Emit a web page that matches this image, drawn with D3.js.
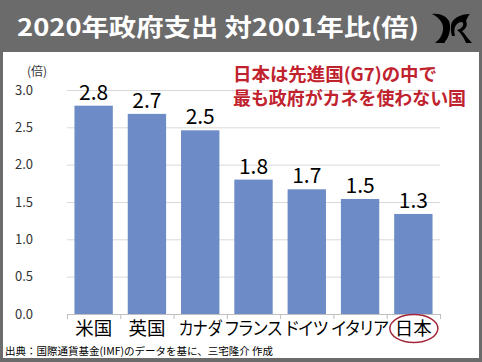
<!DOCTYPE html>
<html>
<head>
<meta charset="utf-8">
<script src="https://cdn.jsdelivr.net/npm/d3@7"></script>
<style>
  body { margin: 0; background: #fff; }
  svg { display: block; }
  .palt { font-feature-settings: "palt" 1; }
</style>
</head>
<body>
<script>
let countries = ["米国", "英国", "カナダ", "フランス", "ドイツ", "イタリア", "日本"];
let ratios = [2.79, 2.68, 2.46, 1.80, 1.67, 1.54, 1.34];
let yTicks = [0, 0.5, 1.0, 1.5, 2.0, 2.5, 3.0];
let title = "2020年政府支出 対2001年比(倍)";
let note = ["日本は先進国(G7)の中で", "最も政府がカネを使わない国"];
let source = "出典：国際通貨基金(IMF)のデータを基に、三宅隆介 作成";

let w = 482;
let h = 362;
let jp = "'Noto Sans CJK JP', 'Noto Sans', sans-serif";

// kana glyphs in the original are narrower than kanji
let labelWidth = s => Array.from(s).reduce((a, c) => a + (/[\u30A0-\u30FF]/.test(c) ? 14.3 : 18.5), 0);

const svg = d3.select("body")
    .append("svg")
    .attr("width", w)
    .attr("height", h);

// frame + title bar
svg.append("rect")
    .attr("x", 0).attr("y", 0)
    .attr("width", w).attr("height", h)
    .attr("fill", "#6b6b6b");
svg.append("rect")
    .attr("x", 3).attr("y", 52)
    .attr("width", w - 6).attr("height", h - 52 - 4)
    .attr("fill", "#fff");

svg.append("text")
    .attr("class", "palt")
    .attr("x", 17)
    .attr("y", 36)
    .attr("fill", "#fff")
    .style("font-family", jp)
    .style("font-weight", "bold")
    .style("font-size", "24px")
    .attr("textLength", 402)
    .attr("lengthAdjust", "spacingAndGlyphs")
    .text(title);

// logo (rough brush shapes)
let logo = svg.append("g").attr("transform", "translate(432,12)");
logo.append("path")
    .attr("d", "M0,2 C8,1 14,4 17,9 C19,14 18,22 15,27 C13,29 12,31 13,31 L3,31 C7,28 10,24 11,18 C12,12 8,6 0,2 Z")
    .attr("fill", "#000");
logo.append("path")
    .attr("d", "M38,2 C30,2 23,5 20,10 C18,15 19,20 20,24 L23,24 C22,19 22,15 25,12 C27,10 30,9 31,11 C32,14 29,17 25,18 C29,21 32,26 34,31 L40,31 C36,27 33,22 30,19 C34,17 36,13 34,9 C35,6 36,4 38,2 Z")
    .attr("fill", "#000");

const xScale = d3.scaleBand()
    .domain(countries)
    .range([67, 440])
    .paddingInner(0.28)
    .paddingOuter(0.14);

const yScale = d3.scaleLinear()
    .domain([0, 3])
    .range([314, 90]);

// gridlines
svg.append("g")
    .selectAll("line")
    .data(yTicks.filter(d => d > 0))
    .enter()
    .append("line")
    .attr("x1", 67).attr("x2", 440)
    .attr("y1", d => yScale(d) + 0.5).attr("y2", d => yScale(d) + 0.5)
    .attr("stroke", "#d9d9d9")
    .attr("stroke-width", 1);

// y axis labels
const yAxis = d3.axisLeft(yScale).tickValues(yTicks).tickFormat(d3.format(".1f")).tickSize(0).tickPadding(0);
svg.append("g")
    .attr("transform", "translate(33,0)")
    .call(yAxis)
    .call(g => g.select(".domain").remove())
    .selectAll("text")
    .attr("fill", "#333")
    .style("font-family", jp)
    .style("font-size", "13px");

svg.append("text")
    .attr("class", "palt")
    .attr("x", 37).attr("y", 76)
    .attr("text-anchor", "middle")
    .attr("fill", "#333")
    .style("font-family", jp)
    .style("font-size", "12px")
    .text("(倍)");

// bars
svg.append("g")
    .selectAll("rect")
    .data(countries)
    .enter()
    .append("rect")
    .attr("x", d => xScale(d))
    .attr("y", (d, i) => yScale(ratios[i]))
    .attr("width", xScale.bandwidth())
    .attr("height", (d, i) => yScale(0) - yScale(ratios[i]))
    .attr("fill", "#6d8bc6");

// value labels
svg.append("g")
    .selectAll("text")
    .data(countries)
    .enter()
    .append("text")
    .attr("x", d => xScale(d) + xScale.bandwidth() / 2)
    .attr("y", (d, i) => yScale(ratios[i]) - 6)
    .attr("text-anchor", "middle")
    .attr("fill", "#000")
    .style("font-family", jp)
    .style("font-size", "21px")
    .text((d, i) => ratios[i].toFixed(1));

// x axis line + ticks between categories
let step = xScale.step();
const xAxisG = svg.append("g");
xAxisG.append("line")
    .attr("x1", 67).attr("x2", 440)
    .attr("y1", 314.5).attr("y2", 314.5)
    .attr("stroke", "#bfbfbf");
xAxisG.selectAll(".tk")
    .data(d3.range(countries.length + 1))
    .enter()
    .append("line")
    .attr("x1", i => 67 + i * step + 0.5).attr("x2", i => 67 + i * step + 0.5)
    .attr("y1", 314).attr("y2", 319)
    .attr("stroke", "#bfbfbf");

svg.append("g")
    .selectAll("text")
    .data(countries)
    .enter()
    .append("text")
    .attr("class", "palt")
    .attr("x", d => xScale(d) + xScale.bandwidth() / 2)
    .attr("y", 335)
    .attr("text-anchor", "middle")
    .attr("fill", "#000")
    .style("font-family", jp)
    .style("font-size", "18px")
    .attr("textLength", d => labelWidth(d))
    .attr("lengthAdjust", "spacingAndGlyphs")
    .text(d => d);

// circle around Japan
svg.append("ellipse")
    .attr("cx", xScale("日本") + xScale.bandwidth() / 2 + 0.5)
    .attr("cy", 328.5)
    .attr("rx", 24)
    .attr("ry", 14)
    .attr("fill", "none")
    .attr("stroke", "#a3283a")
    .attr("stroke-width", 1.5);

// annotation
svg.append("g")
    .selectAll("text")
    .data(note)
    .enter()
    .append("text")
    .attr("x", 233)
    .attr("y", (d, i) => 81 + i * 24)
    .attr("fill", "#c0222e")
    .style("font-family", jp)
    .style("font-weight", "bold")
    .style("font-size", "18px")
    .attr("textLength", (d, i) => [204, 233][i])
    .attr("lengthAdjust", "spacingAndGlyphs")
    .text(d => d);

svg.append("text")
    .attr("x", 5).attr("y", 355)
    .attr("fill", "#000")
    .style("font-family", jp)
    .style("font-size", "10.5px")
    .text(source);
</script>
</body>
</html>
